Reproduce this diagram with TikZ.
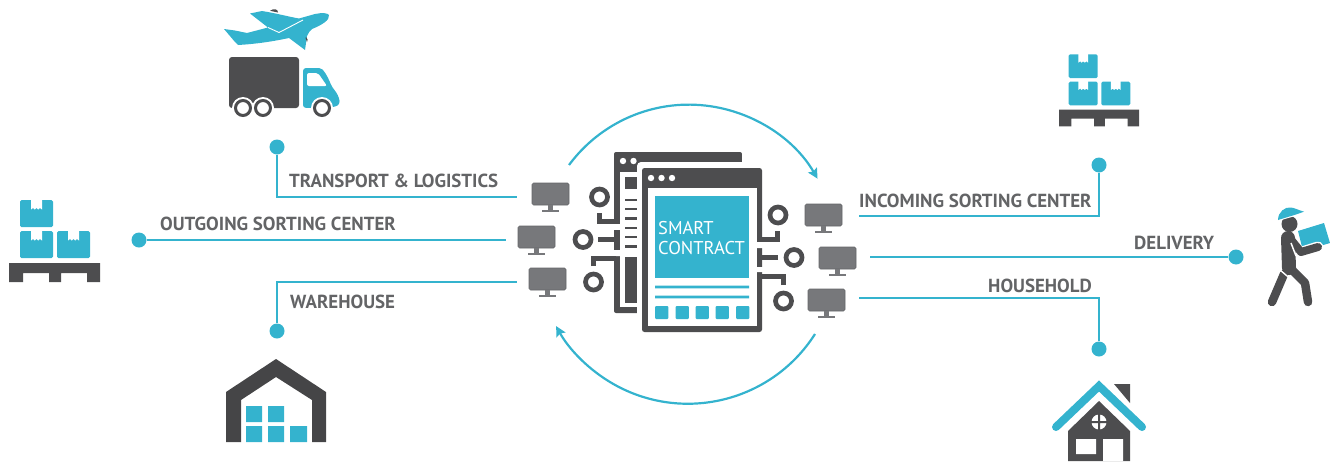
\documentclass[tikz,border=0pt]{standalone}
\usepackage{fontspec}
\setmainfont{PT Sans}
\usetikzlibrary{arrows.meta}
\definecolor{cblue}{HTML}{34B3CE}
\definecolor{cdark}{HTML}{4D4D4F}
\definecolor{cmon}{HTML}{77787B}
\definecolor{ctext}{HTML}{636466}
\newcommand{\cartonat}[2]{%
  \begin{scope}[shift={(#1,#2)}]
    \fill[cblue,rounded corners=1.5pt] (0,0) rectangle (33,27);
    \fill[white] (11,-.5) -- (22,-.5) -- (22,9.5) -- (20,8) -- (18.3,9.5) -- (16.5,8) -- (14.7,9.5) -- (13,8) -- (11,9.5) -- cycle;
  \end{scope}}
\newcommand{\palletat}[3]{%
  \begin{scope}[shift={(#1,#2)},scale=#3]
    \cartonat{11}{0}\cartonat{11}{31}\cartonat{48}{31}
    \fill[cdark] (0,63) -- (91,63) -- (91,82) -- (78,82) -- (78,73) -- (52,73) -- (52,82) -- (40,82) -- (40,73) -- (14,73) -- (14,82) -- (0,82) -- cycle;
  \end{scope}}
\tikzset{
  x=1pt,y=-1pt,
  wire/.style={draw=cblue,line width=2.5pt},
  flow/.style={draw=cblue,line width=2.2pt,-{Stealth[inset=1.6pt,length=10pt,width=10pt]}},
  enddot/.style={circle,fill=cblue,minimum size=15pt,inner sep=0pt},
  lab/.style={anchor=base west,inner sep=0pt,text=ctext,font=\fontsize{18.9pt}{19pt}\selectfont\bfseries},
  ring/.style={circle,draw=cdark,line width=4.7pt,minimum size=16pt,inner sep=0pt,outer sep=0pt},
  trace/.style={draw=cdark,line width=4.7pt},
  darkf/.style={fill=cdark},
  bluef/.style={fill=cblue},
  monitor/.pic={
    \fill[cmon,draw=cmon!85!black,line width=.6pt,rounded corners=1.5pt] (0,0) rectangle (37,22);
    \fill[cmon] (16,22) rectangle (21,27);
    \fill[cmon] (10,27) rectangle (27,29);
  },
}
\begin{document}
\begin{tikzpicture}
\useasboundingbox (0,0) rectangle (1330,461);

% connectors
\node[enddot] (dt) at (277,147) {};
\node[enddot] (do) at (139,240) {};
\node[enddot] (dw) at (277,331) {};
\node[enddot] (di) at (1099,165) {};
\node[enddot] (dd) at (1236,257) {};
\node[enddot] (dh) at (1099,349) {};
\coordinate (et) at (517,197);
\coordinate (eo) at (506,240);
\coordinate (ew) at (517,282);
\coordinate (ei) at (859,216);
\coordinate (ed) at (870,257);
\coordinate (eh) at (859,298);
\draw[wire] (dt) |- (et);
\draw[wire] (do) -- (eo);
\draw[wire] (dw) |- (ew);
\draw[wire] (di) |- (ei);
\draw[wire] (dd) -- (ed);
\draw[wire] (dh) |- (eh);

% labels
\node[lab] (lt) at (289,187) {TRANSPORT \& LOGISTICS};
\node[lab] (lo) at (160,230.5) {OUTGOING SORTING CENTER};
\node[lab] (lw) at (290,308.5) {WAREHOUSE};
\node[lab] (li) at (859,207.5) {INCOMING SORTING CENTER};
\node[lab] (ld) at (1134,249.5) {DELIVERY};
\node[lab] (lh) at (988,292.5) {HOUSEHOLD};

% circular arrows
\coordinate (as) at (569,165);
\coordinate (bs) at (815,334);
\draw[flow] (as) arc[start angle=-143.5,end angle=-30.2,radius=149];
\draw[flow] (bs) arc[start angle=32.5,end angle=151,radius=150.7];

% monitors
\path (532,183) pic {monitor} (518,226) pic {monitor} (529,268) pic {monitor}
      (805,204) pic {monitor} (819,247) pic {monitor} (808,289) pic {monitor};

% back window
\fill[cdark,rounded corners=2pt] (614,152) rectangle (742,313);
\fill[white] (620,172) rectangle (640,307);
\fill[darkf] (625,177) rectangle (637,189);
\foreach \yy in {200,209,218.5,228,237,246.5} \fill[darkf] (625,\yy-1.2) rectangle (637,\yy+1.2);
\fill[darkf] (625,257) rectangle (637,303);
\fill[white] (623,161) circle (3.2) (633.5,161) circle (3.2);
% gaps in the left bar
\fill[white] (613,224) rectangle (621,230) (613,250) rectangle (621,256);
\fill[darkf] (614,230) rectangle (620,250);
\fill[white,rounded corners=4pt] (637,162) rectangle (775,340);
\fill[white] (742,150) rectangle (775,162);

% front window
\fill[cdark,rounded corners=2.5pt] (642,168) rectangle (762,332);
\fill[white] (648,188) rectangle (757,326);
\fill[white] (651,178) circle (3.2) (661.5,178) circle (3.2) (672,178) circle (3.2);
\fill[white] (756,242) rectangle (763,248) (756,267) rectangle (763,272);
\fill[bluef] (655,196) rectangle (749,278);
\fill[bluef] (655,285.7) rectangle (749,288.3) (655,295.7) rectangle (749,298.3);
\foreach \xx in {655,675.5,695.5,715.5,736} \fill[cblue,rounded corners=1pt] (\xx,306) rectangle (\xx+13.3,319);
\node[anchor=base west,inner sep=0pt,text=white,font=\fontsize{18.5pt}{19pt}\selectfont] (sm) at (658,234) {SMART};
\node[anchor=base west,inner sep=0pt,text=white,font=\fontsize{18.5pt}{19pt}\selectfont] (co) at (658,254) {CONTRACT};

% circuit rings and traces
\node[ring] (r1) at (599.5,197) {};
\node[ring] (r2) at (583,239.5) {};
\node[ring] (r3) at (593.5,282) {};
\node[ring] (r4) at (778,215) {};
\node[ring] (r5) at (794,257.5) {};
\node[ring] (r6) at (783.5,301) {};
\coordinate (t1) at (616,221.5);
\coordinate (t2) at (614,239.5);
\coordinate (t3) at (616,258.5);
\coordinate (t4) at (757,239.5);
\coordinate (t5) at (757,257.5);
\coordinate (t6) at (757,276.5);
\draw[trace] (599.5,213) |- (t1);
\draw[trace] (598,239.5) -- (t2);
\draw[trace] (593.5,266) |- (t3);
\draw[trace] (777.5,231) |- (t4);
\draw[trace] (778,257.5) -- (t5);
\draw[trace] (783.5,285) |- (t6);

% plane
\fill[cblue] (224,29) -- (235,30.5) -- (247,33) -- (268,27.5) -- (250,13.5) -- (262,11)
  .. controls (275,13) and (290,17) .. (299,18.5)
  -- (315,14) .. controls (322,12.5) and (328,13) .. (329,15)
  .. controls (330,20) and (322,25) .. (312,29)
  .. controls (310,31) and (308,33) .. (307,36)
  -- (305,50) -- (289,38) .. controls (270,42) and (255,44) .. (238,45)
  -- (235,42) -- cycle;
\draw[white,line width=.9pt] (268,27.5) -- (279,32.5) -- (303,20);
\fill[cdark] (270,10.8) .. controls (274,8) and (278,9) .. (278,12.5) -- cycle;
\fill[cdark] (306,37) .. controls (308,38) and (308,41) .. (307,42) -- (305.5,38) -- cycle;

% truck
\fill[cdark,rounded corners=3pt] (229,57) rectangle (299,108);
\fill[cblue,rounded corners=3pt] (303,68) -- (316,68) .. controls (323,68) and (327,75) .. (332,87)
  .. controls (337,93) and (339,97) .. (340,104) -- (335,107) -- (303,108) -- cycle;
\fill[white,rounded corners=2pt] (307,73) -- (318,73) -- (327,86) -- (307,86) -- cycle;
\foreach \xx in {243,263,322}{
  \fill[white] (\xx,108) circle (11);
  \draw[cdark,line width=3pt] (\xx,108) circle (7.5);
}

% left pallet and right pallet
\palletat{9}{200}{1}
\palletat{1059}{54.3}{.88}

% warehouse
\fill[cdark!90!black] (226,392) -- (276,359) -- (326,392) -- (326,442) -- (312,442) -- (312,400) -- (276,377) -- (241,400) -- (241,442) -- (226,442) -- cycle;
\fill[bluef] (246,406) rectangle (262,422) (268,406) rectangle (284,422)
  (246,426) rectangle (262,442) (268,426) rectangle (284,442) (290,426) rectangle (307,442);

% house
\fill[darkf] (1114,384) -- (1130,384) -- (1130,403) -- cycle;
\fill[darkf] (1099,401) -- (1130,431) -- (1130,461) -- (1068,461) -- (1068,431) -- cycle;
\draw[cblue,line width=8pt,line cap=round,line join=miter] (1056,427) -- (1099,386) -- (1142,427);
\fill[white] (1099,422) circle (7.5);
\fill[darkf] (1098,414) rectangle (1100,430) (1091,421) rectangle (1107,423);
\fill[white] (1076,439) rectangle (1096,454) (1103,439) rectangle (1123,461);

% courier
\fill[bluef] (1298,231) -- (1324,223) -- (1330,243) -- (1303,251) -- cycle;
\fill[darkf] (1289.5,224) circle (8);
\fill[white] (1276,221.5) -- (1297,215.5) -- (1306,212) -- (1298,205) -- (1276,205) -- cycle;
\fill[cblue] (1278,220) .. controls (1278,212) and (1285,206.5) .. (1291,207.5)
  .. controls (1295,208) and (1298,210) .. (1304,211.7) -- (1296,214.5) -- cycle;
\draw[cdark,line width=14pt,line cap=round,line join=round] (1288,238) -- (1289,268);
\draw[white,line width=11pt,line cap=round,line join=round] (1302,252) -- (1318,247);
\draw[cdark,line width=8pt,line cap=round,line join=round] (1288,236) -- (1301,252) -- (1318,247);
\draw[white,line width=1.5pt] (1296,256) -- (1291,243);
\draw[cdark,line width=8.5pt,line cap=round,line join=round] (1284,274) -- (1272,302);
\draw[cdark,line width=8.5pt,line cap=round,line join=round] (1290,268) -- (1305,283) -- (1308,302);
\draw[white,line width=1.4pt] (1280,270) -- (1293,281);
\end{tikzpicture}
\end{document}
